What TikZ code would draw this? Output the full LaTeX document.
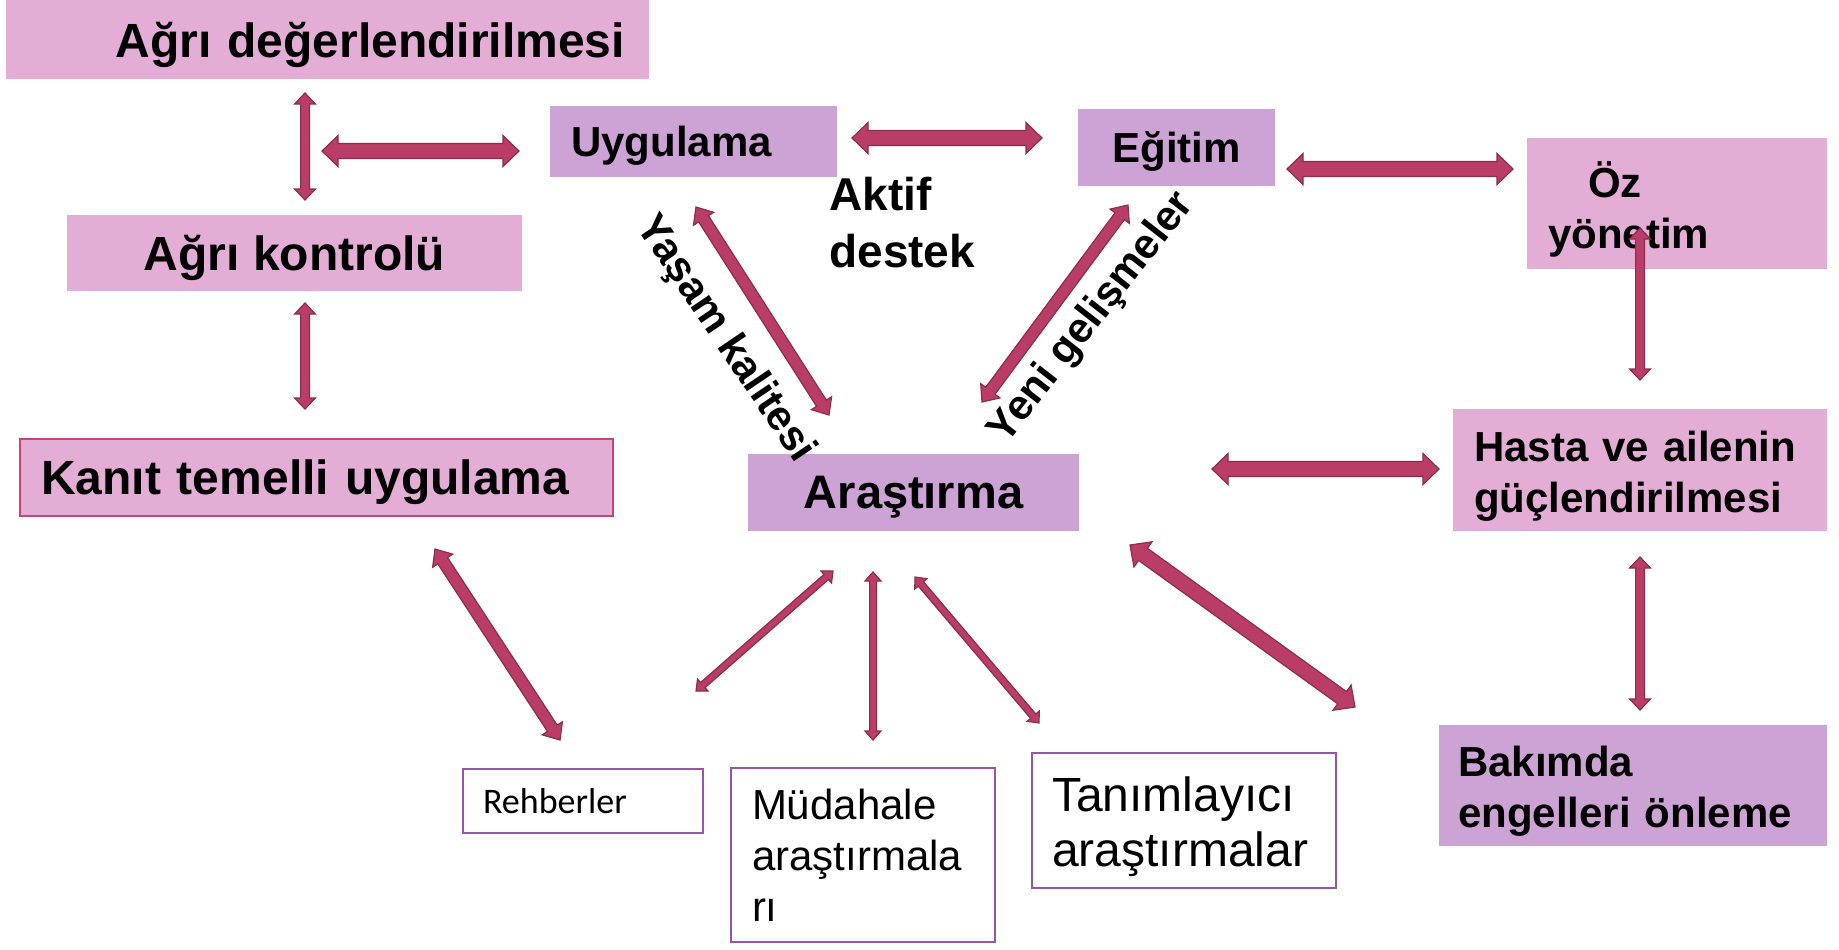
\documentclass[tikz,border=0pt]{standalone}
\usepackage{fontspec}
\setmainfont{Liberation Sans}
\newfontfamily\calibrifont{Carlito}
\usetikzlibrary{calc}
\definecolor{boxpink}{HTML}{E3ADD6}
\definecolor{boxlilac}{HTML}{CDA2D4}
\definecolor{arrowfill}{HTML}{B93D67}
\definecolor{arrowedge}{HTML}{8C2D50}
\definecolor{kanitedge}{HTML}{C8466E}
\definecolor{studyedge}{HTML}{9556A6}
\newcommand\sizeA{\fontsize{24}{28}\selectfont}
\newcommand\sizeB{\fontsize{21}{25.5}\selectfont}
\tikzset{
  twoway/.style n args={3}{draw=arrowedge, line width=0.6pt, fill=arrowfill,
    to path={(\tikztostart)
      -- ($(\tikztostart)!#3!(\tikztotarget)!#2!90:(\tikztotarget)$)
      -- ($(\tikztostart)!#3!(\tikztotarget)!#1!90:(\tikztotarget)$)
      -- ($(\tikztotarget)!#3!(\tikztostart)!#1!-90:(\tikztostart)$)
      -- ($(\tikztotarget)!#3!(\tikztostart)!#2!-90:(\tikztostart)$)
      -- (\tikztotarget)
      -- ($(\tikztotarget)!#3!(\tikztostart)!#2!90:(\tikztostart)$)
      -- ($(\tikztotarget)!#3!(\tikztostart)!#1!90:(\tikztostart)$)
      -- ($(\tikztostart)!#3!(\tikztotarget)!#1!-90:(\tikztotarget)$)
      -- ($(\tikztostart)!#3!(\tikztotarget)!#2!-90:(\tikztotarget)$)
      -- cycle}},
  bigarrow/.style={twoway={3.75pt}{7.75pt}{8pt}},
  midarrow/.style={twoway={2.9pt}{6pt}{7pt}},
  thinarrow/.style={twoway={2.2pt}{5.2pt}{5.5pt}},
  smallarrow/.style={twoway={1.7pt}{4pt}{4.5pt}}
}
\begin{document}
\begin{tikzpicture}[x=0.5pt, y=-0.5pt]
% 1 unit = 1 px of the 1839 x 949 slide
\tikzstyle{pinkbox} = [rectangle, fill=boxpink, inner ysep=0pt, text depth=0pt, font=\bfseries]
\tikzstyle{lilacbox} = [rectangle, fill=boxlilac, inner ysep=0pt, text depth=0pt, font=\bfseries]
\tikzstyle{studybox} = [rectangle, draw=studyedge, line width=1pt, fill=white, inner ysep=0pt, align=left]
\useasboundingbox (0,0) rectangle (1839,949);

\node (agrideg)[pinkbox, text width=297.5pt, inner xsep=12pt, minimum height=39.5pt, align=right, font=\bfseries\sizeA] at (327.5,39.5) {Ağrı değerlendirilmesi};
\node (agrikon)[pinkbox, minimum width=227.5pt, minimum height=38pt, font=\bfseries\sizeA] at (294.5,253) {Ağrı kontrolü};
\node (kanit)[pinkbox, draw=kanitedge, line width=1pt, text width=275.5pt, inner xsep=10.5pt, minimum height=38.5pt, align=left, font=\bfseries\sizeA] at (316.5,477.5) {Kanıt temelli uygulama};
\node (uygulama)[lilacbox, text width=122.5pt, inner xsep=10.5pt, minimum height=35.5pt, align=left, font=\bfseries\sizeB] at (693.5,141.5) {Uygulama};
\node (egitim)[lilacbox, minimum width=98.5pt, minimum height=38.5pt, font=\bfseries\sizeB] at (1176.5,147.5) {Eğitim};
\node (oz)[pinkbox, text depth=24pt, text width=129pt, inner xsep=10.5pt, minimum height=65.5pt, align=left, font=\bfseries\sizeB] at (1677,203.5) {\hspace*{20pt}Öz\\yönetim};
\node (arastirma)[lilacbox, minimum width=165.5pt, minimum height=38.5pt, font=\bfseries\fontsize{23.5}{28}\selectfont] at (913.5,492.5) {Araştırma};
\node (hasta)[pinkbox, text depth=24pt, text width=166pt, inner xsep=10.5pt, minimum height=61pt, align=left, font=\bfseries\sizeB] at (1640,470) {Hasta ve ailenin\\güçlendirilmesi};
\node (bakim)[lilacbox, text depth=24pt, text width=175pt, inner xsep=9.5pt, minimum height=60.5pt, align=left, font=\bfseries\sizeB] at (1633,785.5) {Bakımda\\engelleri önleme};
\node (rehber)[studybox, text width=100pt, inner xsep=10pt, minimum height=32pt, font=\calibrifont\fontsize{18}{22}\selectfont] at (583,801) {Rehberler};
\node (mudahale)[studybox, text width=111pt, inner xsep=10.5pt, minimum height=87pt, font=\sizeB] at (863,855) {Müdahale\\araştırmala\\rı};
\node (tanim)[studybox, text depth=26pt, text width=132pt, inner xsep=10pt, minimum height=67.5pt, font=\fontsize{24}{27.5}\selectfont] at (1184,820.5) {Tanımlayıcı\\araştırmalar};

\node (aktif)[anchor=west, align=left, inner sep=0pt, font=\bfseries\fontsize{23}{28.5}\selectfont] at (829,222.5) {Aktif\\destek};
\node (yasam)[rotate=-56, inner sep=0pt, font=\bfseries\sizeB] at (725,339) {Yaşam kalitesi};
\node (yeni)[rotate=52, inner sep=0pt, font=\bfseries\sizeB] at (1092,318) {Yeni gelişmeler};

\coordinate (dk1) at (305,93);   \coordinate (dk2) at (305,200);
\coordinate (du1) at (322,151);  \coordinate (du2) at (519,151);
\coordinate (ue1) at (852,138);  \coordinate (ue2) at (1042,138);
\coordinate (eo1) at (1287,169); \coordinate (eo2) at (1513,169);
\coordinate (kk1) at (305,303);  \coordinate (kk2) at (305,409);
\coordinate (ya1) at (696,207);  \coordinate (ya2) at (829,415);
\coordinate (ye1) at (1128,205); \coordinate (ye2) at (982,402);
\coordinate (oh1) at (1640,228); \coordinate (oh2) at (1640,380);
\coordinate (ah1) at (1212,469); \coordinate (ah2) at (1439,469);
\coordinate (hb1) at (1640,557); \coordinate (hb2) at (1640,710);
\coordinate (kr1) at (435,549);  \coordinate (kr2) at (560,740);
\coordinate (ar1) at (833,571);  \coordinate (ar2) at (696,691);
\coordinate (am1) at (873,572);  \coordinate (am2) at (873,740);
\coordinate (at1) at (915,577);  \coordinate (at2) at (1039,723);
\coordinate (ab1) at (1130,545); \coordinate (ab2) at (1355,707);

\draw [thinarrow] (dk1) to (dk2);
\draw [bigarrow] (du1) to (du2);
\draw [bigarrow] (ue1) to (ue2);
\draw [bigarrow] (eo1) to (eo2);
\draw [thinarrow] (kk1) to (kk2);
\draw [midarrow] (ya1) to (ya2);
\draw [midarrow] (ye1) to (ye2);
\draw [thinarrow] (oh1) to (oh2);
\draw [bigarrow] (ah1) to (ah2);
\draw [thinarrow] (hb1) to (hb2);
\draw [midarrow] (kr1) to (kr2);
\draw [smallarrow] (ar1) to (ar2);
\draw [smallarrow] (am1) to (am2);
\draw [smallarrow] (at1) to (at2);
\draw [bigarrow] (ab1) to (ab2);
\end{tikzpicture}
\end{document}
